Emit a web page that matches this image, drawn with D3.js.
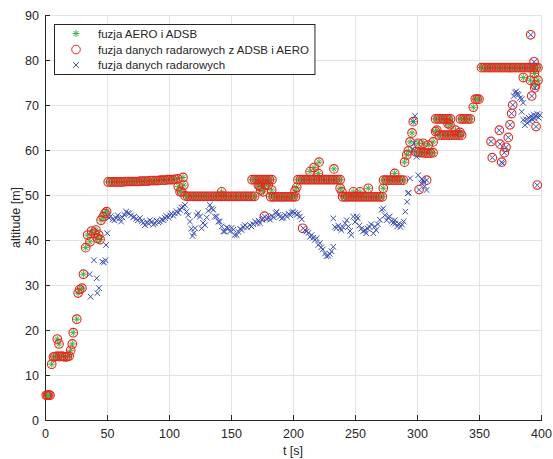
<!DOCTYPE html>
<html>
<head>
<meta charset="utf-8">
<script src="https://cdn.jsdelivr.net/npm/d3@7"></script>
<style>
  body { margin: 0; background: #fff; }
  svg { display: block; font-family: "Liberation Sans", Arial, Helvetica, sans-serif; }
</style>
</head>
<body>
<svg id="chart" width="553" height="459"></svg>
<script>
// ---------- data ----------
const xTicks = [0, 50, 100, 150, 200, 250, 300, 350, 400];
const yTicks = [0, 10, 20, 30, 40, 50, 60, 70, 80, 90];
const seriesNames = ["fuzja AERO i ADSB", "fuzja danych radarowych z ADSB i AERO", "fuzja danych radarowych"];

// green: fuzja AERO i ADSB  [t, altitude]
const fusionAeroAdsb = [
  [1,5.5],[2,5.5],[3,5.6],[4,5.5],[5.4,12.4],[6.8,14.0],[8,14.1],[10,14.2],[9.9,18.0],[11.3,16.9],
  [12,14.1],[13.5,14.2],[15,14.1],[16.5,14.0],[18,14.1],[19.5,14.2],[20.7,15.5],[22,16.9],[22.8,19.4],
  [25.6,22.4],[26.7,28.2],[28,29.0],[29.8,29.3],[31,32.4],[32.8,38.3],[34.4,41.1],[36.3,39.6],[37.6,42.0],
  [39.6,41.5],[41.1,42.2],[42.2,40.4],[43.3,41.1],[44.4,40.1],[45.2,44.4],[47,45.2],[48.4,45.9],[49.7,46.3],
  // plateau ~53
  [51,52.9],[53,52.9],[55,52.9],[57,52.9],[59,52.9],[61,52.9],[63,52.9],[65,53.0],[67,53.0],[69,53.0],
  [71,53.0],[73,53.0],[75,53.0],[77,53.1],[79,53.1],[81,53.1],[83,53.1],[85,53.2],[87,53.2],[89,53.2],
  [91,53.2],[93,53.3],[95,53.3],[97,53.3],[99,53.4],[101,53.4],[103,53.4],[105,53.5],[107,53.6],
  [107.5,51.9],[108.9,50.7],[110.2,50.7],[111.3,53.9],[112,52.2],
  // plateau ~49.7
  [113,49.8],[115,49.7],[117,49.7],[119,49.7],[121,49.7],[123,49.7],[125,49.7],[127,49.7],[129,49.7],
  [131,49.7],[133,49.7],[135,49.7],[137,49.7],[139,49.7],[141,49.7],[142.5,50.7],[143,49.7],[145,49.7],
  [147,49.7],[149,49.7],[151,49.7],[153,49.7],[155,49.7],[157,49.7],[159,49.7],[161,49.7],[163,49.7],
  [165,49.7],[167,49.7],[169,49.7],
  // upper ~53.4
  [167,53.4],[169,53.4],[171,53.4],[173,53.4],[175,53.4],[177,53.4],[179,53.4],[181,53.4],[183,53.4],
  [172,52.2],[173.4,51.9],[174,51.1],[176,50.7],[178,52.2],[180,52.2],[182.8,51.1],
  // lower ~49.6
  [182,49.6],[184,49.6],[186,49.6],[188,49.6],[190,49.6],[192,49.6],[194,49.6],[196,49.6],[198,49.6],
  [200,49.6],[202,49.6],[201.6,50.9],[203,51.7],
  // upper ~53.4
  [204,53.4],[206,53.4],[208,53.4],[210,53.4],[212,53.4],[214,53.4],[216,53.4],[218,53.4],[220,53.4],
  [222,53.4],[224,53.4],[226,53.4],[228,53.4],[230,53.4],[232,53.4],[234,53.4],[236,53.4],[238,53.4],
  [213.7,55.2],[217,56.1],[221,57.3],[220.4,54.8],[233,55.8],[238,51.5],[239.5,50.7],
  // lower ~49.6
  [240,49.6],[242,49.6],[244,49.6],[246,49.6],[248,49.6],[250,49.6],[252,49.6],[254,49.6],[256,49.6],
  [258,49.6],[260,49.6],[262,49.6],[264,49.6],[266,49.6],[268,49.6],[270,49.6],[272,49.6],
  [248.6,50.7],[254,50.7],[260.7,51.5],[272.8,51.5],
  // upper ~53.3
  [273,53.3],[275,53.3],[277,53.3],[279,53.3],[281,53.3],[283,53.3],[285,53.3],[287,53.3],[289,53.3],
  [282,54.8],
  // climb
  [290,57.3],[291.7,58.9],[293,59.8],[294.4,61.8],[296,63.8],[297,66.3],
  [299,59.6],[301,59.5],[303,59.4],[305,59.4],[307,59.3],[309,59.3],[311,59.3],[313,59.4],
  [301,61.5],[305,61.5],[309,61.1],[313,61.8],[315,64.1],[316,64.4],
  [318,63.3],[320,63.3],[322,63.3],[324,63.3],[326,63.3],[328,63.3],[330,63.3],[332,63.3],[334,63.3],[336,63.3],
  [315,66.9],[317,66.9],[319,66.9],[321,66.9],[323,66.9],[325,66.9],[327,66.9],
  [335,66.9],[337,66.9],[339,66.9],[341,66.9],[343,66.9],
  [325,65.9],[326.6,65.6],[331,64.4],[334.7,63.9],
  [345.4,69.5],[347,71.3],[348.5,71.3],[350,71.3],
  // plateau ~78.3
  [352,78.3],[354,78.3],[356,78.3],[358,78.3],[360,78.3],[362,78.3],[364,78.3],[366,78.3],[368,78.3],
  [370,78.3],[372,78.3],[374,78.3],[376,78.3],[378,78.3],[380,78.3],[382,78.3],[384,78.3],[386,78.3],
  [388,78.3],[390,78.3],[392,78.3],[394,78.3],[396,78.3],[397.5,78.3],
  [385.7,76.1],[391.5,75.5],[394.7,77.0],[397.6,75.5],[395.5,74.4]
];

// red-only points (radar fusion where no AERO/ADSB point)  [t, altitude]
const radarFusionExtra = [
  [177,45.3],[207.8,42.6],[301.7,51.2],[307.8,53.3],
  [359.7,61.9],[360.7,58.3],[366.4,64.4],[367,61.3],[368.3,57.3],[370.4,59.4],[371.8,60.6],
  [373.6,62.8],[375,65.6],[376.3,68.1],[377.2,70.0],[391.7,85.6],[392.5,72.0],[394.4,79.6],
  [395,73.8],[396,65.2],[397,52.2]
];

// blue: fuzja danych radarowych  [t, altitude]
const radarFusion = [
  [36.0,32.4],[36.8,27.4],[39.5,35.5],[41.7,31.5],[42.2,28.2],[43.6,29.3],[46.2,35.2],[47.5,35.0],
  [48.8,35.5],[49.2,38.9],[50.2,41.5],
  [51.6,44.9],[53,45.3],[54.5,44.6],[56,44.4],[57.5,44.9],[58.7,45.5],[60,44.8],[61.3,44.1],[62.5,45.0],
  [64,45.6],[65.4,46.3],[66.8,46.0],[68,45.9],[69.5,45.5],[71,45.0],[72,45.2],[73.5,44.7],[75,44.4],
  [76.5,44.9],[78,44.2],[79.3,43.8],[80.6,43.3],[82,44.0],[83.5,43.6],[84.6,44.4],[86,44.0],[87.4,43.4],
  [88.7,43.7],[90,44.3],[91.5,43.9],[92.7,44.1],[94,44.6],[95.5,44.4],[96.8,44.9],[98,45.3],[99.5,45.0],
  [100.8,45.5],[102,45.9],[103.5,45.4],[104.8,45.9],[106,46.4],[107.5,46.0],[108.9,46.7],[110,47.2],
  [111.5,47.4],[112.9,47.8],[114.2,46.3],[115.5,45.5],[116.9,44.1],[118,42.5],[119,40.9],[120,41.5],
  [121,42.6],[122.3,45.5],[123.5,46.0],[125,45.2],[126.3,42.6],[127.5,43.8],[129,43.3],[130.4,45.0],
  [131.7,46.5],[133,47.8],[134.5,47.0],[135.8,46.7],[137,45.2],[138.4,45.2],[139.8,44.1],[141,44.1],
  [142.5,43.0],[143.8,41.9],[145,41.9],[146.5,42.8],[147.8,42.6],[149.2,41.9],[150.5,42.7],[152,42.3],
  [153,41.1],[154.6,41.1],[156,41.8],[157.3,42.5],[158.6,42.2],[160,42.9],[161.3,43.3],[163,42.8],
  [165.3,43.3],[166.5,43.0],[168,43.5],[169.4,44.1],[171,43.7],[172.2,44.3],[173.4,43.7],[175,44.5],
  [176,44.8],[177.4,45.2],[178.8,44.6],[180.2,45.0],[181.5,44.5],[183,45.4],[184.5,45.0],[186,46.0],
  [186.8,46.3],[188.2,45.6],[189.5,45.2],[191,44.8],[192,45.0],[193.5,45.6],[195,45.2],[196.5,45.8],
  [197.8,45.5],[199,46.1],[200,46.3],[201.6,46.0],[203,45.6],[204.3,45.9],[205.6,45.2],[207,44.6],
  [208.3,42.6],[209.6,42.2],[211,41.9],[212.5,41.6],[213.7,40.7],[215,41.1],[216.3,40.5],[217.6,40.0],
  [219,40.4],[220.4,38.9],[221.6,39.3],[222.8,38.4],[224,37.9],[225.8,37.0],[227,36.4],[228.5,36.5],
  [229.7,36.9],[231,37.5],[232.5,38.5],
  [232.5,44.8],[233.8,42.9],[235,42.6],[236.5,43.2],[238,42.6],[239,42.2],[240.5,42.8],[242,43.7],
  [243.3,44.4],[244.6,43.0],[246,42.0],[247,41.1],[248.6,45.2],[250,44.0],[251.4,45.2],[252.3,44.8],
  [253.6,43.2],[255,42.5],[256.4,41.9],[258,42.2],[259,41.5],[260.4,42.5],[261.7,42.9],[263,43.5],
  [264.8,41.5],[266,43.0],[267,42.2],[268.5,43.5],[270,44.5],[271.5,46.7],[272.8,47.0],[274,45.5],
  [275.5,44.4],[276.8,45.0],[278,45.2],[279.5,44.2],[280.8,43.8],[282,44.4],[282.5,43.7],[284,43.0],
  [285.3,43.6],[286.6,42.9],[288,43.4],[289.3,44.1],[290.6,46.3],[292,48.5],[292.6,50.4],[293.3,50.5],
  [294.4,53.7],[296.5,60.2],[297.5,61.5],[298.4,67.6],[297,66.3],[299.7,58.5],[301,54.4],[301.7,51.2],
  [303.6,52.6],[303.8,53.5],[305,53.3],[305.5,52.9],[306.3,51.9],[307.7,51.1],[307.8,53.3],
  [359.7,61.9],[360.7,58.3],[366.4,64.4],[367,61.3],[368.3,57.3],[368.8,57.0],[370.4,59.4],[371.8,60.6],
  [373.6,62.8],[375,65.6],[376.3,68.1],[377.2,70.0],
  [378,72.0],[379,72.8],[380,73.0],[381,72.5],[382,72.3],[383,71.5],[384.5,71.3],[385.5,70.5],
  [384.4,68.5],[385.7,66.7],[387,65.5],[388,66.8],[389,66.0],[390,67.2],[391,66.4],[392,67.5],
  [393,66.8],[394,67.8],[395,67.0],[396,67.6],[397,68.0],[398,67.2],[399,67.8],
  [391.7,85.6],[392.5,72.0],[394.4,79.6],[395,73.8],[396,65.2],[397,52.2]
];

// ---------- layout ----------
const svg = d3.select("#chart");
const M = { left: 45, right: 541, top: 15, bottom: 420 };
const x = d3.scaleLinear().domain([0, 400]).range([M.left, M.right]);
const y = d3.scaleLinear().domain([0, 90]).range([M.bottom, M.top]);

const colGreen = "#45b34a", colRed = "#e8261e", colBlue = "#3a4fb4";
const axisCol = "#262626", gridCol = "#e3e3e3";
const fontSize = "12.5px";

// grid
const g = svg.append("g");
g.selectAll(".gx").data(xTicks).join("line")
  .attr("x1", d => x(d)).attr("x2", d => x(d)).attr("y1", M.top).attr("y2", M.bottom)
  .attr("stroke", gridCol).attr("stroke-width", 1).attr("shape-rendering", "crispEdges");
g.selectAll(".gy").data(yTicks).join("line")
  .attr("x1", M.left).attr("x2", M.right).attr("y1", d => y(d)).attr("y2", d => y(d))
  .attr("stroke", gridCol).attr("stroke-width", 1).attr("shape-rendering", "crispEdges");

// axes
const xAxis = d3.axisBottom(x).tickValues(xTicks).tickSizeInner(-5).tickSizeOuter(0).tickPadding(9.5);
const yAxis = d3.axisLeft(y).tickValues(yTicks).tickSizeInner(-5).tickSizeOuter(0).tickPadding(6);
const gx = svg.append("g").attr("transform", `translate(0,${M.bottom})`).call(xAxis);
const gy = svg.append("g").attr("transform", `translate(${M.left},0)`).call(yAxis);
[gx, gy].forEach(a => {
  a.select(".domain").attr("stroke", axisCol).attr("shape-rendering", "crispEdges");
  a.selectAll(".tick line").attr("stroke", axisCol).attr("shape-rendering", "crispEdges");
  a.selectAll(".tick text").attr("fill", axisCol).style("font-size", fontSize)
   .style("font-family", '"Liberation Sans", Arial, sans-serif');
});

// axis labels
svg.append("text").attr("x", (M.left + M.right) / 2).attr("y", 455)
  .attr("text-anchor", "middle").attr("fill", axisCol).style("font-size", fontSize).text("t [s]");
svg.append("text").attr("transform", `translate(19.5,${(M.top + M.bottom) / 2}) rotate(-90)`)
  .attr("text-anchor", "middle").attr("fill", axisCol).style("font-size", fontSize).text("altitude [m]");

// markers
function asterisk(sel, s) {
  sel.append("path").attr("d", `M${-s},0H${s}M0,${-s}V${s}M${-s*0.7},${-s*0.7}L${s*0.7},${s*0.7}M${-s*0.7},${s*0.7}L${s*0.7},${-s*0.7}`);
}
function cross(sel, s) {
  sel.append("path").attr("d", `M${-s},${-s}L${s},${s}M${-s},${s}L${s},${-s}`);
}

const plot = svg.append("g");
const radarFusionFull = fusionAeroAdsb.concat(radarFusionExtra);

plot.append("g").attr("stroke", colGreen).attr("stroke-width", 1).attr("fill", "none")
  .selectAll("g").data(fusionAeroAdsb).join("g")
  .attr("transform", d => `translate(${x(d[0])},${y(d[1])})`)
  .each(function () { asterisk(d3.select(this), 3.5); });

plot.append("g").selectAll("circle").data(radarFusionFull).join("circle")
  .attr("cx", d => x(d[0])).attr("cy", d => y(d[1])).attr("r", 4.3)
  .attr("fill", "none").attr("stroke", colRed).attr("stroke-width", 1.1);

plot.append("g").attr("stroke", colBlue).attr("stroke-width", 1).attr("fill", "none")
  .selectAll("g").data(radarFusion).join("g")
  .attr("transform", d => `translate(${x(d[0])},${y(d[1])})`)
  .each(function () { cross(d3.select(this), 2.8); });

// legend
const leg = svg.append("g");
const legBox = leg.append("rect").attr("x", 54.5).attr("y", 24.5).attr("height", 50)
  .attr("fill", "#fff").attr("stroke", axisCol).attr("stroke-width", 1);
const rowsY = [33.5, 49.5, 65];
let maxW = 0;
seriesNames.forEach((name, i) => {
  const row = leg.append("g").attr("transform", `translate(76,${rowsY[i]})`);
  if (i === 0) { row.attr("stroke", colGreen).attr("fill", "none"); asterisk(row, 3.5); }
  if (i === 1) { row.append("circle").attr("r", 4.3).attr("fill", "none").attr("stroke", colRed); }
  if (i === 2) { row.attr("stroke", colBlue).attr("fill", "none"); cross(row, 2.8); }
  const t = leg.append("text").attr("x", 98).attr("y", rowsY[i]).attr("dy", "0.35em")
    .attr("fill", axisCol).style("font-size", "11.5px").text(name);
  maxW = Math.max(maxW, t.node().getComputedTextLength());
});
legBox.attr("width", 98 + maxW + 6 - 54.5);
</script>
</body>
</html>
